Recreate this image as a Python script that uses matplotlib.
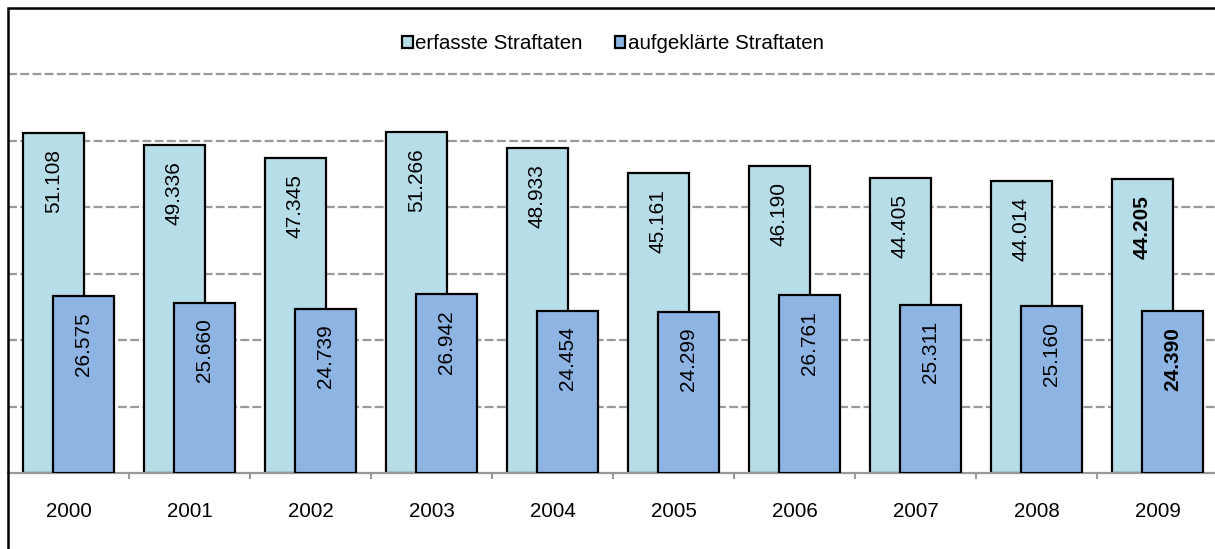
import numpy as np
import matplotlib.pyplot as plt
from matplotlib.patches import Rectangle

years = ['2000', '2001', '2002', '2003', '2004', '2005', '2006', '2007', '2008', '2009']
erfasst = [51108, 49336, 47345, 51266, 48933, 45161, 46190, 44405, 44014, 44205]
aufgeklaert = [26575, 25660, 24739, 26942, 24454, 24299, 26761, 25311, 25160, 24390]

plt.rcParams['font.family'] = ['Liberation Sans', 'DejaVu Sans']

W, H = 1215, 549
fig = plt.figure(figsize=(W / 100, H / 100), dpi=100)
ax = fig.add_axes([8 / W, 76 / H, 1210 / W, 465 / H])

x = np.arange(len(years))
b1 = ax.bar(x - 0.125, erfasst, width=0.5, color='#B7DEE8', edgecolor='black',
            linewidth=1.6, label='erfasste Straftaten', zorder=2)
b2 = ax.bar(x + 0.125, aufgeklaert, width=0.5, color='#8EB4E3', edgecolor='black',
            linewidth=1.6, label='aufgeklärte Straftaten', zorder=3)


def fmt(v):
    return f'{v:,}'.replace(',', '.')


for bars, vals in ((b1, erfasst), (b2, aufgeklaert)):
    for i, (r, v) in enumerate(zip(bars, vals)):
        ax.annotate(fmt(v), (r.get_x() + r.get_width() / 2, v),
                    xytext=(0, -11.5), textcoords='offset points',
                    rotation=90, ha='center', va='top', fontsize=15,
                    fontweight='bold' if i == len(vals) - 1 else 'normal',
                    zorder=4)

ax.set_xlim(-0.5, 9.5)
ax.set_ylim(0, 70000)
ax.set_yticks(np.arange(10000, 70000, 10000))
ax.yaxis.grid(True, color='#999999', linewidth=1.6, linestyle=(0, (4, 1.5)))
ax.set_axisbelow(True)
ax.tick_params(axis='y', left=False, labelleft=False)

ax.set_xticks(x)
ax.set_xticklabels(years, fontsize=14.8)
ax.tick_params(axis='x', which='major', length=0, pad=21)
ax.set_xticks(np.arange(0.5, 9.5, 1), minor=True)
ax.tick_params(axis='x', which='minor', length=4, width=1.5, color='#999999')

for s in ('top', 'left', 'right'):
    ax.spines[s].set_visible(False)
ax.spines['bottom'].set_color('#999999')
ax.spines['bottom'].set_linewidth(1.6)

ax.legend(loc='center', bbox_to_anchor=(0.5, 1 - 36 / 465), ncol=2, frameon=False,
          fontsize=14.8, handlelength=0.5, handleheight=0.5, handletextpad=0.1,
          columnspacing=1.6)

fig.add_artist(Rectangle((8 / W, -0.2), 1.2, 1.2 - 8 / H, transform=fig.transFigure,
                         fill=False, edgecolor='black', linewidth=1.8))

fig.savefig('out.png', dpi=100)
